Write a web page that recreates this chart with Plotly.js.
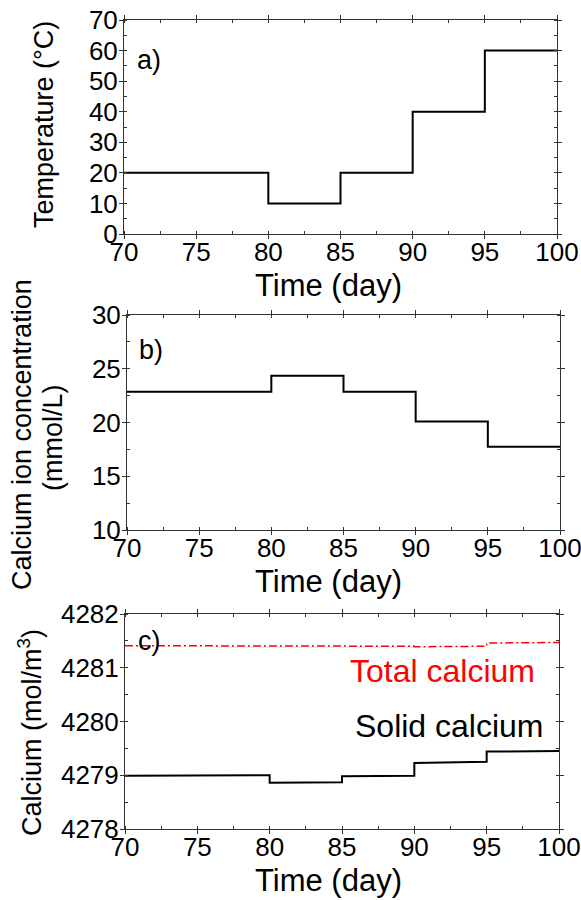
<!DOCTYPE html>
<html>
<head>
<meta charset="utf-8">
<script src="https://cdn.plot.ly/plotly-3.0.1.min.js"></script>
<style>html,body{margin:0;padding:0;background:#fff;}#chart{width:581px;height:900px;}</style>
</head>
<body>
<div id="chart"></div>
<script>
// ---- data ----
var stepDays = [70, 80, 85, 90, 95, 100];
var temperature = [20, 10, 20, 40, 60, 60];
var calciumIon = [22.85, 24.35, 22.85, 20.1, 17.75, 17.75];
var segStart = [70, 80, 85, 90, 95];
var segEnd = [80, 85, 90, 95, 100];
var solidStart = [4278.99, 4278.86, 4278.98, 4279.23, 4279.44];
var solidEnd = [4279.00, 4278.87, 4278.99, 4279.25, 4279.45];
var totalStart = [4281.41, 4281.41, 4281.40, 4281.39, 4281.46];
var totalEnd = [4281.41, 4281.41, 4281.40, 4281.40, 4281.47];
var xTitle = 'Time (day)';
var panelLabels = ['a)', 'b)', 'c)'];
var yTitles = ['Temperature (°C)', 'Calcium ion concentration', '(mmol/L)', 'Calcium (mol/m<sup>3</sup>)'];
var seriesNames = ['Total calcium', 'Solid calcium'];

function segs(starts, ends) {
  var xs = [], ys = [];
  for (var i = 0; i < segStart.length; i++) {
    xs.push(segStart[i], segEnd[i]);
    ys.push(starts[i], ends[i]);
  }
  return {x: xs, y: ys};
}
var solid = segs(solidStart, solidEnd);
var total = segs(totalStart, totalEnd);

var FONT = 'Liberation Sans, Arial, sans-serif';
var W = 581, H = 900;
function px(x) { return x / W; }
function py(y) { return 1 - y / H; }

var traces = [
  {x: stepDays, y: temperature, mode: 'lines', line: {shape: 'hv', color: '#000', width: 2}, xaxis: 'x', yaxis: 'y'},
  {x: stepDays, y: calciumIon, mode: 'lines', line: {shape: 'hv', color: '#000', width: 2}, xaxis: 'x2', yaxis: 'y2'},
  {x: total.x, y: total.y, mode: 'lines', line: {color: '#ff0000', width: 1.5, dash: '8px,3px,2px,3px'}, xaxis: 'x3', yaxis: 'y3'},
  {x: solid.x, y: solid.y, mode: 'lines', line: {color: '#000', width: 2}, xaxis: 'x3', yaxis: 'y3'}
];

function xax(dom, anchor) {
  return {domain: dom, anchor: anchor, range: [70, 100], dtick: 5, tick0: 70,
    showline: true, linecolor: '#333', linewidth: 1, mirror: 'allticks',
    ticks: 'outside', ticklen: 4, tickcolor: '#333', showgrid: false, zeroline: false,
    tickfont: {family: FONT, size: 26, color: '#000'}, ticklabelstandoff: -9,
    ticklabeloverflow: 'allow',
    minor: {dtick: 2.5, ticks: 'inside', ticklen: 3, tickcolor: '#333', showgrid: false},
    fixedrange: true};
}
function yax(dom, anchor, range, dtick, mdtick) {
  return {domain: dom, anchor: anchor, range: range, dtick: dtick, tick0: range[0],
    showline: true, linecolor: '#333', linewidth: 1, mirror: 'allticks',
    ticks: 'outside', ticklen: 4, tickcolor: '#333', showgrid: false, zeroline: false,
    tickfont: {family: FONT, size: 26, color: '#000'}, ticklabelstandoff: -4,
    ticklabeloverflow: 'allow',
    minor: {dtick: mdtick, ticks: 'inside', ticklen: 3, tickcolor: '#333', showgrid: false},
    fixedrange: true};
}

var annotations = [];
function ann(text, x, y, size, color, angle) {
  annotations.push({text: text, xref: 'paper', yref: 'paper', x: px(x), y: py(y),
    xanchor: 'center', yanchor: 'middle', showarrow: false, textangle: angle || 0,
    font: {family: FONT, size: size, color: color || '#000'}});
}
ann(panelLabels[0], 149, 60, 27);
ann(panelLabels[1], 151, 350, 27);
ann(panelLabels[2], 149, 641, 27);
ann(xTitle, 328, 285, 31);
ann(xTitle, 328, 581, 31);
ann(xTitle, 328, 880, 31);
ann(yTitles[0], 44, 125, 27, '#000', -90);
ann(yTitles[1], 22, 435, 27, '#000', -90);
ann(yTitles[2], 53, 438, 27, '#000', -90);
ann(yTitles[3], 30, 733, 27, '#000', -90);
ann(seriesNames[0], 443, 671, 32, '#ff0000');
ann(seriesNames[1], 449, 726, 32, '#000');

var layout = {
  width: W, height: H, margin: {l: 0, r: 0, t: 0, b: 0},
  paper_bgcolor: '#fff', plot_bgcolor: '#fff', showlegend: false,
  xaxis: xax([px(124), px(557)], 'y'),
  yaxis: yax([py(234), py(20)], 'x', [0, 70], 10, 5),
  xaxis2: xax([px(127), px(560)], 'y2'),
  yaxis2: yax([py(530), py(315)], 'x2', [10, 30], 5, 2.5),
  xaxis3: xax([px(125), px(559)], 'y3'),
  yaxis3: yax([py(829), py(614)], 'x3', [4278, 4282], 1, 0.5),
  annotations: annotations
};
Plotly.newPlot('chart', traces, layout, {displayModeBar: false, staticPlot: true});
</script>
</body>
</html>
